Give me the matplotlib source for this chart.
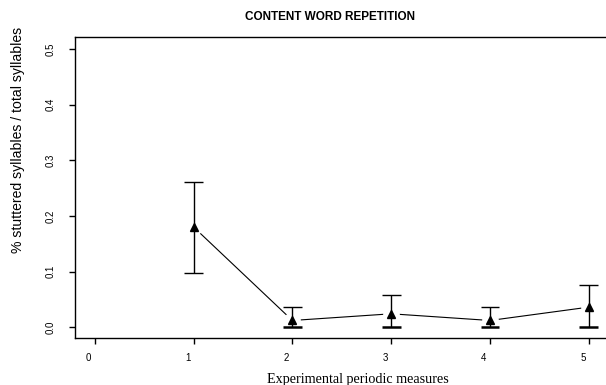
import matplotlib
matplotlib.use("Agg")
import matplotlib.pyplot as plt
import matplotlib.transforms as mtransforms
import numpy as np

# periodic measures and mean % stuttered syllables with error bounds
measures = [1, 2, 3, 4, 5]
means = [0.180, 0.012, 0.024, 0.012, 0.036]
upper = [0.261, 0.036, 0.058, 0.036, 0.075]
lower = [0.097, 0.000, 0.000, 0.000, 0.000]

x_ticks = [0, 1, 2, 3, 4, 5]
y_ticks = [0.0, 0.1, 0.2, 0.3, 0.4, 0.5]

W, H = 606, 385
fig = plt.figure(figsize=(W / 100, H / 100), dpi=100)
ax = fig.add_axes([75 / W, 1 - 338 / H, 1 - 75 / W, (338 - 37) / H])

x = np.array(measures)
m = np.array(means)
up = np.array(upper)
lo = np.array(lower)

# connecting line with gaps around the points (R type="b")
ax.plot(x, m, color="black", lw=0.8, zorder=2)
ax.plot(x, m, ls="none", marker="o", ms=11, mfc="white", mec="white", zorder=3)

# error bars
ax.vlines(x, lo, up, color="black", lw=1.0, zorder=4)
ax.hlines(up, x - 0.095, x + 0.095, color="black", lw=1.0, zorder=4)
first = lo > 0
ax.hlines(lo[first], x[first] - 0.095, x[first] + 0.095, color="black", lw=1.0, zorder=4)
ax.hlines(lo[~first], x[~first] - 0.095, x[~first] + 0.095, color="black", lw=1.8, zorder=4)

ax.plot(x, m, ls="none", marker="^", ms=5.5, color="black", zorder=5)

ax.set_xlim(-0.2, 5.174)
ax.set_ylim(-0.0195, 0.5215)
ax.set_xticks(x_ticks)
ax.set_yticks(y_ticks)
ax.set_xticklabels([str(t) for t in x_ticks], fontsize=7, family="Liberation Sans")
ax.set_yticklabels([f"{t:.1f}" for t in y_ticks], fontsize=7, family="Liberation Sans",
                   rotation=90, va="center")
ax.tick_params(axis="both", direction="out", length=4, width=1.0, color="black")
ax.tick_params(axis="y", pad=10)
ax.tick_params(axis="x", pad=7)
shift = mtransforms.ScaledTranslation(-6 / 100, 0, fig.dpi_scale_trans)
for lab in ax.get_xticklabels():
    lab.set_transform(lab.get_transform() + shift)

for side in ["left", "bottom", "top"]:
    ax.spines[side].set_linewidth(1.0)
ax.spines["right"].set_visible(False)

ax.set_ylabel("% stuttered syllables / total syllables", fontsize=10.1,
              family="Liberation Sans")
ax.yaxis.set_label_coords(-(75 - 25) / (W - 75), (338 - 140) / (338 - 37))

fig.text(330 / W, 1 - 17 / H, "CONTENT WORD REPETITION", ha="center", va="center",
         fontsize=8.5, fontweight="bold", family="Liberation Sans")
fig.text(358 / W, 1 - 380 / H, "Experimental periodic measures", ha="center",
         va="center", fontsize=10.2, family="Liberation Serif")

fig.savefig("out.png", dpi=100)
